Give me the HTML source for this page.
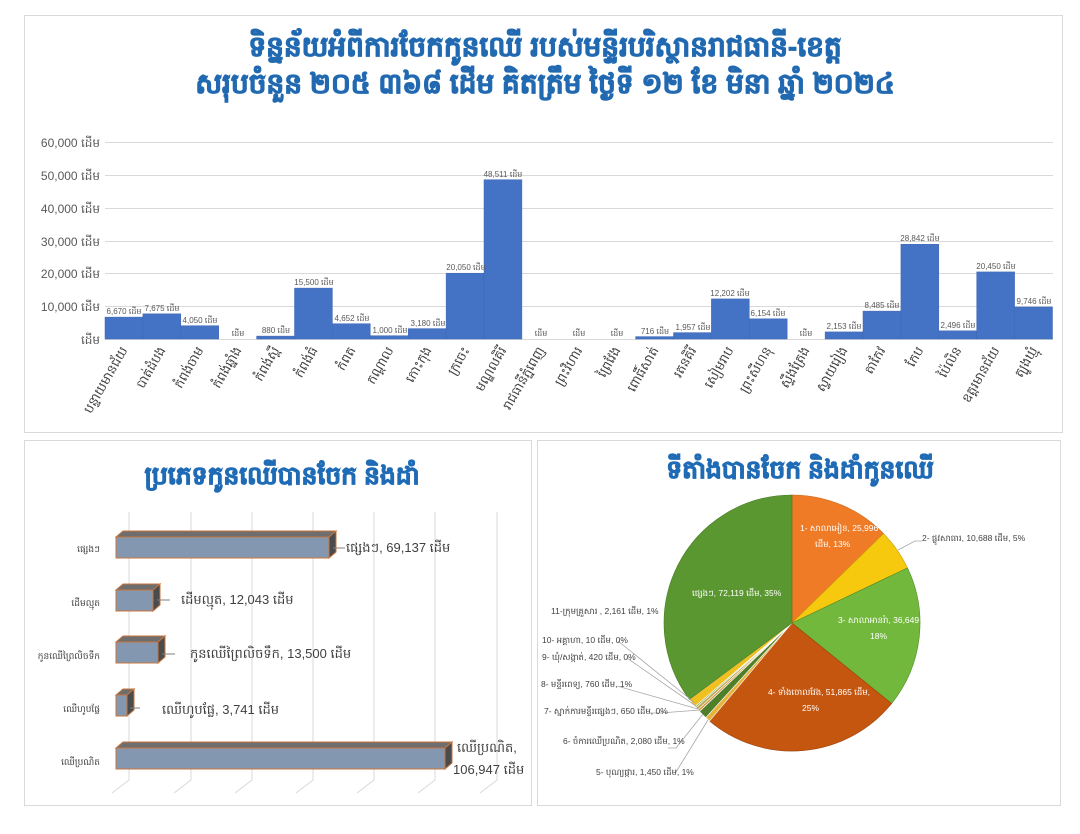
<!DOCTYPE html>
<html><head><meta charset="utf-8">
<style>
html,body{margin:0;padding:0;background:#fff;}
body{width:1080px;height:834px;overflow:hidden;position:relative;font-family:"Liberation Sans","Noto Sans CJK SC",sans-serif;}
svg{position:absolute;left:0;top:0;}
</style></head><body>
<svg width="1080" height="834" viewBox="0 0 1080 834" xmlns="http://www.w3.org/2000/svg" font-family="Liberation Sans, Noto Sans CJK SC, sans-serif">
<rect x="24.5" y="15.5" width="1038" height="417" fill="#fff" stroke="#d9d9d9"/>
<rect x="24.5" y="440.5" width="507" height="365" fill="#fff" stroke="#d9d9d9"/>
<rect x="537.5" y="440.5" width="523" height="365" fill="#fff" stroke="#d9d9d9"/>

<text x="545" y="56" text-anchor="middle" font-size="28" font-weight="bold" fill="#2169b0" stroke="#2169b0" stroke-width="0.8">ទិន្នន័យអំពីការចែកកូនឈើ របស់មន្ទីរបរិស្ថានរាជធានី-ខេត្ត</text>
<text x="545" y="93" text-anchor="middle" font-size="28" font-weight="bold" fill="#2169b0" stroke="#2169b0" stroke-width="0.8">សរុបចំនួន ២០៥ ៣៦៨ ដើម គិតត្រឹម ថ្ងៃទី ១២ ខែ មិនា ឆ្នាំ ២០២៤</text>

<g stroke="#d9d9d9" stroke-width="1">
<line x1="105" y1="142.5" x2="1053" y2="142.5"/>
<line x1="105" y1="175.5" x2="1053" y2="175.5"/>
<line x1="105" y1="208.5" x2="1053" y2="208.5"/>
<line x1="105" y1="241.5" x2="1053" y2="241.5"/>
<line x1="105" y1="273.5" x2="1053" y2="273.5"/>
<line x1="105" y1="306.5" x2="1053" y2="306.5"/>
<line x1="105" y1="339.5" x2="1053" y2="339.5"/>
</g>
<g font-size="12" fill="#595959" text-anchor="end">
<text x="100" y="147">60,000 ដើម</text>
<text x="100" y="180">50,000 ដើម</text>
<text x="100" y="213">40,000 ដើម</text>
<text x="100" y="246">30,000 ដើម</text>
<text x="100" y="278">20,000 ដើម</text>
<text x="100" y="311">10,000 ដើម</text>
<text x="100" y="344">ដើម</text>
</g>
<g fill="#4472c4" stroke="#3f68b4" stroke-width="0.5">
<rect x="105" y="317.1" width="37.9" height="21.9"/>
<rect x="142.9" y="313.8" width="37.9" height="25.2"/>
<rect x="180.8" y="325.7" width="37.9" height="13.3"/>
<rect x="256.6" y="336.1" width="37.9" height="2.9"/>
<rect x="294.5" y="288.1" width="37.9" height="50.9"/>
<rect x="332.4" y="323.7" width="37.9" height="15.3"/>
<rect x="370.3" y="335.7" width="37.9" height="3.3"/>
<rect x="408.2" y="328.6" width="37.9" height="10.4"/>
<rect x="446.1" y="273.2" width="37.9" height="65.8"/>
<rect x="484" y="179.7" width="37.9" height="159.3"/>
<rect x="635.6" y="336.6" width="37.9" height="2.4"/>
<rect x="673.5" y="332.6" width="37.9" height="6.4"/>
<rect x="711.4" y="298.9" width="37.9" height="40.1"/>
<rect x="749.3" y="318.8" width="37.9" height="20.2"/>
<rect x="825.1" y="331.9" width="37.9" height="7.1"/>
<rect x="863" y="311.1" width="37.9" height="27.9"/>
<rect x="900.9" y="244.3" width="37.9" height="94.7"/>
<rect x="938.8" y="330.8" width="37.9" height="8.2"/>
<rect x="976.7" y="271.9" width="37.9" height="67.1"/>
<rect x="1014.6" y="307" width="37.9" height="32"/>
</g>
<g font-size="8" fill="#595959" text-anchor="middle">
<text x="124" y="314">6,670 ដើម</text>
<text x="162" y="311">7,675 ដើម</text>
<text x="200" y="323">4,050 ដើម</text>
<text x="238" y="336">ដើម</text>
<text x="276" y="333">880 ដើម</text>
<text x="314" y="285">15,500 ដើម</text>
<text x="352" y="321">4,652 ដើម</text>
<text x="390" y="333">1,000 ដើម</text>
<text x="428" y="326">3,180 ដើម</text>
<text x="466" y="270">20,050 ដើម</text>
<text x="503" y="177">48,511 ដើម</text>
<text x="541" y="336">ដើម</text>
<text x="579" y="336">ដើម</text>
<text x="617" y="336">ដើម</text>
<text x="655" y="334">716 ដើម</text>
<text x="693" y="330">1,957 ដើម</text>
<text x="730" y="296">12,202 ដើម</text>
<text x="768" y="316">6,154 ដើម</text>
<text x="806" y="336">ដើម</text>
<text x="844" y="329">2,153 ដើម</text>
<text x="882" y="308">8,485 ដើម</text>
<text x="920" y="241">28,842 ដើម</text>
<text x="958" y="328">2,496 ដើម</text>
<text x="996" y="269">20,450 ដើម</text>
<text x="1034" y="304">9,746 ដើម</text>
</g>
<g font-size="13" fill="#404040" text-anchor="end">
<text transform="translate(128,350) rotate(-60)">បន្ទាយមានជ័យ</text>
<text transform="translate(166,350) rotate(-60)">បាត់ដំបង</text>
<text transform="translate(204,350) rotate(-60)">កំពង់ចាម</text>
<text transform="translate(242,350) rotate(-60)">កំពង់ឆ្នាំង</text>
<text transform="translate(280,350) rotate(-60)">កំពង់ស្ពឺ</text>
<text transform="translate(318,350) rotate(-60)">កំពង់ធំ</text>
<text transform="translate(356,350) rotate(-60)">កំពត</text>
<text transform="translate(394,350) rotate(-60)">កណ្តាល</text>
<text transform="translate(432,350) rotate(-60)">កោះកុង</text>
<text transform="translate(470,350) rotate(-60)">ក្រចេះ</text>
<text transform="translate(507,350) rotate(-60)">មណ្ឌលគិរី</text>
<text transform="translate(545,350) rotate(-60)">រាជធានីភ្នំពេញ</text>
<text transform="translate(583,350) rotate(-60)">ព្រះវិហារ</text>
<text transform="translate(621,350) rotate(-60)">ព្រៃវែង</text>
<text transform="translate(659,350) rotate(-60)">ពោធិ៍សាត់</text>
<text transform="translate(697,350) rotate(-60)">រតនគិរី</text>
<text transform="translate(734,350) rotate(-60)">សៀមរាប</text>
<text transform="translate(772,350) rotate(-60)">ព្រះសីហនុ</text>
<text transform="translate(810,350) rotate(-60)">ស្ទឹងត្រែង</text>
<text transform="translate(848,350) rotate(-60)">ស្វាយរៀង</text>
<text transform="translate(886,350) rotate(-60)">តាកែវ</text>
<text transform="translate(924,350) rotate(-60)">កែប</text>
<text transform="translate(962,350) rotate(-60)">ប៉ៃលិន</text>
<text transform="translate(1000,350) rotate(-60)">ឧត្តរមានជ័យ</text>
<text transform="translate(1038,350) rotate(-60)">ត្បូងឃ្មុំ</text>
</g>

<text x="282" y="484" text-anchor="middle" font-size="25" font-weight="bold" fill="#1f6bb5" stroke="#1f6bb5" stroke-width="0.8">ប្រភេទកូនឈើបានចែក និងដាំ</text>
<g stroke="#d9d9d9" stroke-width="1" fill="none">
<path d="M129 512 V780 L112 793"/>
<path d="M191 512 V780 L174 793"/>
<path d="M252 512 V780 L235 793"/>
<path d="M313 512 V780 L296 793"/>
<path d="M374 512 V780 L357 793"/>
<path d="M435 512 V780 L418 793"/>
<path d="M497 512 V780 L480 793"/>
</g>
<g stroke="#c8743c" stroke-width="1">
<polygon points="116,537 123,531 336,531 329,537" fill="#6e6e6e"/>
<polygon points="329,537 336,531 336,552 329,558" fill="#4b4b4b"/>
<rect x="116" y="537" width="213" height="21" fill="#8497b0"/>
<polygon points="116,590 123,584 160,584 153,590" fill="#6e6e6e"/>
<polygon points="153,590 160,584 160,605 153,611" fill="#4b4b4b"/>
<rect x="116" y="590" width="37" height="21" fill="#8497b0"/>
<polygon points="116,642 123,636 165,636 158,642" fill="#6e6e6e"/>
<polygon points="158,642 165,636 165,657 158,663" fill="#4b4b4b"/>
<rect x="116" y="642" width="42" height="21" fill="#8497b0"/>
<polygon points="116,695 123,689 134,689 127,695" fill="#6e6e6e"/>
<polygon points="127,695 134,689 134,710 127,716" fill="#4b4b4b"/>
<rect x="116" y="695" width="11" height="21" fill="#8497b0"/>
<polygon points="116,748 123,742 452,742 445,748" fill="#6e6e6e"/>
<polygon points="445,748 452,742 452,763 445,769" fill="#4b4b4b"/>
<rect x="116" y="748" width="329" height="21" fill="#8497b0"/>
</g>
<g stroke="#7f7f7f" stroke-width="1">
<line x1="333" y1="548" x2="345" y2="548"/>
<line x1="157" y1="600" x2="170" y2="600"/>
<line x1="162" y1="654" x2="175" y2="654"/>
<line x1="130" y1="708" x2="140" y2="708"/>
</g>
<g font-size="9" fill="#404040" text-anchor="end">
<text x="100" y="552">ផ្សេងៗ</text>
<text x="100" y="606">ដើមល្មុត</text>
<text x="100" y="659">កូនឈើព្រៃលិចទឹក</text>
<text x="100" y="712">ឈើហូបផ្លែ</text>
<text x="100" y="765">ឈើប្រណិត</text>
</g>
<g font-size="13" fill="#404040">
<text x="346" y="552">ផ្សេងៗ, 69,137  ដើម</text>
<text x="181" y="604">ដើមល្មុត, 12,043  ដើម</text>
<text x="190" y="658">កូនឈើព្រៃលិចទឹក, 13,500  ដើម</text>
<text x="162" y="714">ឈើហូបផ្លែ, 3,741  ដើម</text>
<text x="457" y="752">ឈើប្រណិត,</text>
<text x="453" y="774">106,947  ដើម</text>
</g>

<text x="800" y="478" text-anchor="middle" font-size="25" font-weight="bold" fill="#1f6bb5" stroke="#1f6bb5" stroke-width="0.8">ទីតាំងបានចែក និងដាំកូនឈើ</text>
<g stroke="#fff" stroke-width="0.6">
<path d="M792,623 L792.0,495.0 A128,128 0 0,1 883.6,533.6 Z" fill="#f07b26" stroke="#c76a1e"/>
<path d="M792,623 L883.6,533.6 A128,128 0 0,1 907.5,567.9 Z" fill="#f6c90f" stroke="#c9a30a"/>
<path d="M792,623 L907.5,567.9 A128,128 0 0,1 891.6,703.5 Z" fill="#72b83c" stroke="#4f8a28"/>
<path d="M792,623 L891.6,703.5 A128,128 0 0,1 709.6,721.0 Z" fill="#c5560f" stroke="#9a420b"/>
<path d="M792,623 L709.6,721.0 A128,128 0 0,1 705.8,717.6 Z" fill="#e7b33a"/>
<path d="M792,623 L705.8,717.6 A128,128 0 0,1 699.5,711.4 Z" fill="#4f7f2a"/>
<path d="M792,623 L699.5,711.4 A128,128 0 0,1 697.8,709.6 Z" fill="#d89a4a"/>
<path d="M792,623 L697.8,709.6 A128,128 0 0,1 696.0,707.6 Z" fill="#b9a44a"/>
<path d="M792,623 L696.0,707.6 A128,128 0 0,1 694.9,706.5 Z" fill="#8fae5a"/>
<path d="M792,623 L694.9,706.5 A128,128 0 0,1 689.4,699.5 Z" fill="#f0c020"/>
<path d="M792,623 L689.4,699.5 A128,128 0 0,1 792.0,495.0 Z" fill="#5b9730" stroke="#467a22"/>
</g>
<g stroke="#a6a6a6" stroke-width="0.8" fill="none">
<path d="M898 550 L915 541 L922 541"/>
<path d="M618 641 L695 703"/>
<path d="M627 658 L696 706"/>
<path d="M617 686 L698 709"/>
<path d="M650 713 L660 713 L700 710"/>
<path d="M668 748 L676 748 L703 714"/>
<path d="M676 772 L708 720"/>
</g>
<g font-size="8.5" fill="#ffffff">
<text x="800" y="531">1- សាលាអៀន, 25,996</text>
<text x="815" y="547">ដើម, 13%</text>
<text x="838" y="623">3- សាលាអានរ៉ា, 36,649  ដើម,</text>
<text x="870" y="639">18%</text>
<text x="768" y="695">4- ទាំងចោលវែង, 51,865  ដើម,</text>
<text x="802" y="711">25%</text>
<text x="692" y="596">ផ្សេងៗ, 72,119  ដើម, 35%</text>
</g>
<g font-size="8.5" fill="#404040">
<text x="922" y="541">2- ផ្លូវសាធារ, 10,688  ដើម, 5%</text>
<text x="551" y="614">11-ក្រុមគ្រួសារ , 2,161  ដើម, 1%</text>
<text x="542" y="643">10- អគ្គាហា, 10  ដើម, 0%</text>
<text x="542" y="660">9- ឃុំ/សង្កាត់, 420  ដើម, 0%</text>
<text x="541" y="687">8- មន្ទីរពេទ្យ, 760  ដើម, 1%</text>
<text x="544" y="714">7- ស្នាក់ការមន្ទីរផ្សេងៗ, 650  ដើម, 0%</text>
<text x="563" y="744">6- ចំការឈើប្រណិត, 2,080  ដើម, 1%</text>
<text x="596" y="775">5- បុណ្យផ្ការ, 1,450  ដើម, 1%</text>
</g>
</svg>
</body></html>
